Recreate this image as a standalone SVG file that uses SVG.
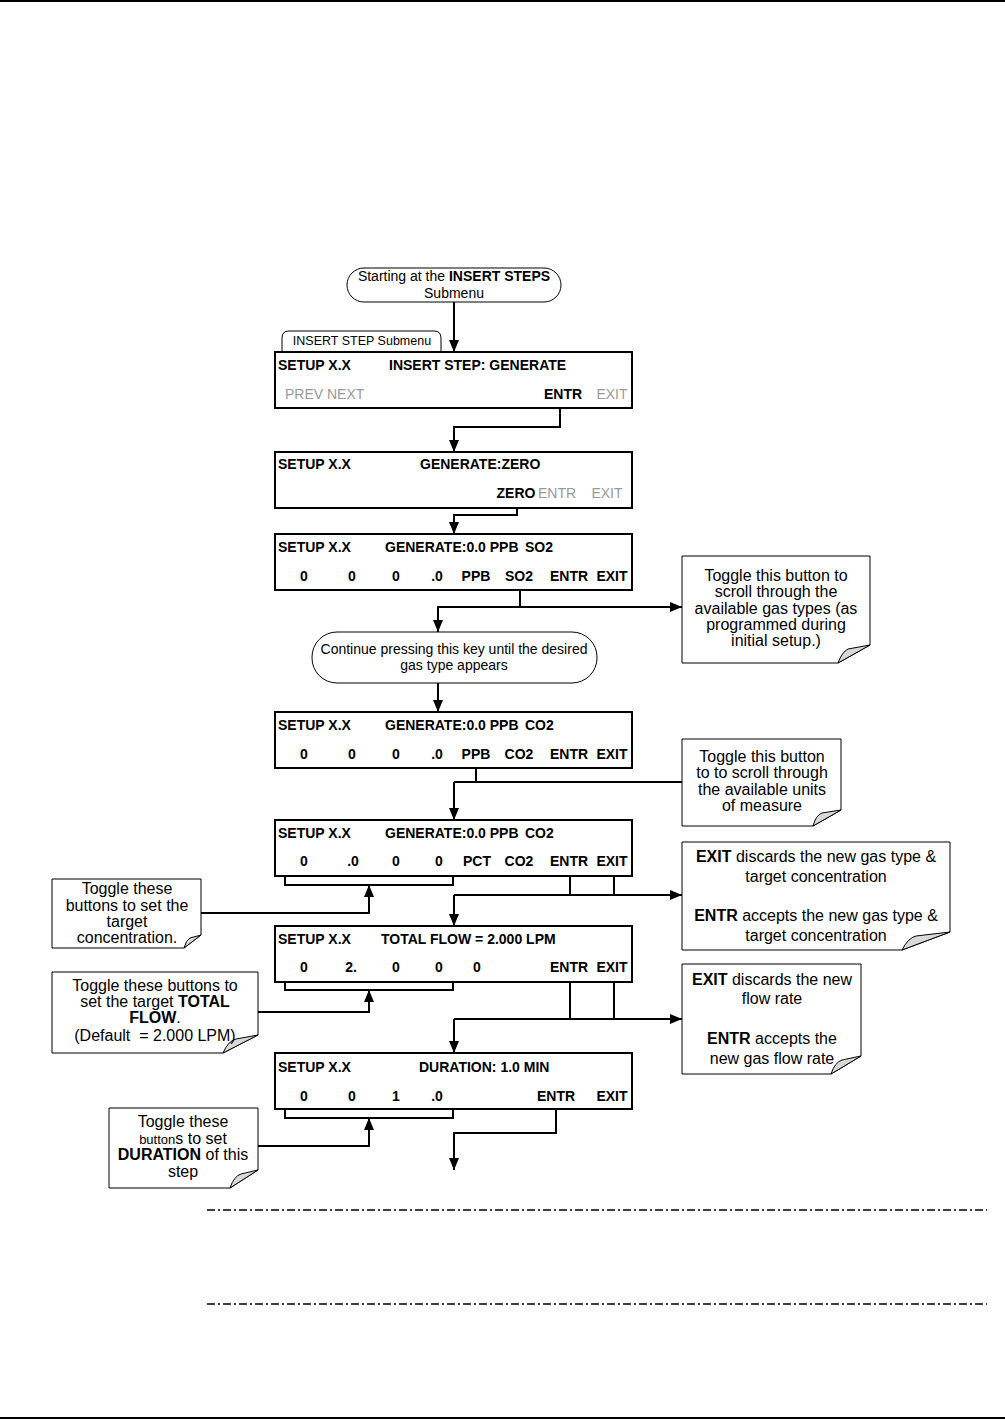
<svg xmlns="http://www.w3.org/2000/svg" width="1005" height="1420" viewBox="0 0 1005 1420">
<defs>
<marker id="ah" markerUnits="userSpaceOnUse" markerWidth="14" markerHeight="12" refX="12" refY="5" orient="auto">
<path d="M0,0 L12,5 L0,10 Z" fill="#000"/>
</marker>
<style>
.box{fill:#fff;stroke:#000;stroke-width:2}
.t{font-family:"Liberation Sans",Arial,sans-serif;font-size:14px;font-weight:bold;fill:#000}
.g{font-family:"Liberation Sans",Arial,sans-serif;font-size:14px;fill:#999}
.n{font-family:"Liberation Sans",Arial,sans-serif;font-size:16px;fill:#000;text-anchor:middle}
.p{font-family:"Liberation Sans",Arial,sans-serif;font-size:14px;fill:#000;text-anchor:middle}
.m{text-anchor:middle}
.note{fill:#fff;stroke:#000;stroke-width:1}
.fold{fill:#d9d9d9;stroke:#000;stroke-width:1}
.c{fill:none;stroke:#000;stroke-width:2}
.a{fill:none;stroke:#000;stroke-width:2;marker-end:url(#ah)}
.d{fill:none;stroke:#000;stroke-width:1.5;stroke-dasharray:8 3 2 3}
</style>
</defs>
<rect width="1005" height="1420" fill="#fff"/>
<line x1="0" y1="1" x2="1005" y2="1" stroke="#000" stroke-width="2"/>
<line x1="0" y1="1418" x2="1005" y2="1418" stroke="#000" stroke-width="2"/>

<g id="connectors">
<path class="a" d="M454,302 V352"/>
<path class="a" d="M560,408 V427 H454 V452"/>
<path class="a" d="M517,508 V515 H454 V534"/>
<path class="c" d="M520,590 V607"/>
<path class="a" d="M520,607 H438 V632"/>
<path class="a" d="M520,607 H682"/>
<path class="a" d="M438,683 V712"/>
<path class="c" d="M476,768 V782"/>
<path class="c" d="M454,782 H682"/>
<path class="a" d="M454,782 V820"/>
<path class="c" d="M570,860 V895 M614,860 V895"/>
<path class="a" d="M454,895 H682"/>
<path class="a" d="M454,895 V926"/>
<path class="c" d="M285,860 V885 H453 V860"/>
<path class="a" d="M201,913 H369 V885"/>
<path class="c" d="M570,966 V1019 M614,966 V1019"/>
<path class="a" d="M454,1019 H682"/>
<path class="a" d="M454,1019 V1053"/>
<path class="c" d="M285,966 V990 H453 V966"/>
<path class="a" d="M258,1012 H369 V990"/>
<path class="c" d="M285,1094 V1118 H453 V1094"/>
<path class="a" d="M258,1146 H369 V1118"/>
<path class="a" d="M556,1109 V1133 H454 V1170"/>
</g>

<g id="start">
<rect x="347" y="268" width="214" height="34" rx="17" fill="#fff" stroke="#000" stroke-width="1"/>
<text class="p" x="454" y="281">Starting at the <tspan font-weight="bold">INSERT STEPS</tspan></text>
<text class="p" x="454" y="298">Submenu</text>
</g>

<g id="tab">
<path d="M282,352 V338 Q282,331 289,331 H434 Q441,331 441,338 V352" fill="#fff" stroke="#000" stroke-width="1"/>
<text x="362" y="345" font-family="Liberation Sans, Arial, sans-serif" font-size="12.5" text-anchor="middle">INSERT STEP Submenu</text>
</g>

<g id="box1">
<rect class="box" x="275" y="352" width="357" height="56"/>
<text class="t" x="278" y="370">SETUP X.X</text>
<text class="t" x="389" y="370">INSERT STEP: GENERATE</text>
<text class="g" x="285" y="399">PREV NEXT</text>
<text class="t m" x="563" y="399">ENTR</text>
<text class="g m" x="612" y="399">EXIT</text>
</g>

<g id="box2">
<rect class="box" x="275" y="452" width="357" height="56"/>
<text class="t" x="278" y="469">SETUP X.X</text>
<text class="t" x="420" y="469">GENERATE:ZERO</text>
<text class="t m" x="516" y="498">ZERO</text>
<text class="g m" x="557" y="498">ENTR</text>
<text class="g m" x="607" y="498">EXIT</text>
</g>

<g id="box3">
<rect class="box" x="275" y="534" width="357" height="56"/>
<text class="t" x="278" y="552">SETUP X.X</text>
<text class="t" x="385" y="552">GENERATE:0.0 PPB</text>
<text class="t" x="525" y="552">SO2</text>
<text class="t m" x="304" y="581">0</text>
<text class="t m" x="352" y="581">0</text>
<text class="t m" x="396" y="581">0</text>
<text class="t m" x="437" y="581">.0</text>
<text class="t m" x="476" y="581">PPB</text>
<text class="t m" x="519" y="581">SO2</text>
<text class="t m" x="569" y="581">ENTR</text>
<text class="t m" x="612" y="581">EXIT</text>
</g>

<g id="note1">
<path class="note" d="M682,556 H870 V645 L838,663 H682 Z"/>
<path class="fold" d="M870,645 L838,663 Q842,652 848,649 Z"/>
<text class="n" x="776" y="581">Toggle this button to</text>
<text class="n" x="776" y="597">scroll through the</text>
<text class="n" x="776" y="614">available gas types (as</text>
<text class="n" x="776" y="630">programmed during</text>
<text class="n" x="776" y="646">initial setup.)</text>
</g>

<g id="pill2">
<rect x="312" y="632" width="285" height="51" rx="25" fill="#fff" stroke="#000" stroke-width="1"/>
<text class="p" x="454" y="654">Continue pressing this key until the desired</text>
<text class="p" x="454" y="670">gas type appears</text>
</g>

<g id="box4">
<rect class="box" x="275" y="712" width="357" height="56"/>
<text class="t" x="278" y="730">SETUP X.X</text>
<text class="t" x="385" y="730">GENERATE:0.0 PPB</text>
<text class="t" x="525" y="730">CO2</text>
<text class="t m" x="304" y="759">0</text>
<text class="t m" x="352" y="759">0</text>
<text class="t m" x="396" y="759">0</text>
<text class="t m" x="437" y="759">.0</text>
<text class="t m" x="476" y="759">PPB</text>
<text class="t m" x="519" y="759">CO2</text>
<text class="t m" x="569" y="759">ENTR</text>
<text class="t m" x="612" y="759">EXIT</text>
</g>

<g id="note2">
<path class="note" d="M682,739 H841 V810 L813,826 H682 Z"/>
<path class="fold" d="M841,810 L813,826 Q816,815 822,813 Z"/>
<text class="n" x="762" y="762">Toggle this button</text>
<text class="n" x="762" y="778">to to scroll through</text>
<text class="n" x="762" y="795">the available units</text>
<text class="n" x="762" y="811">of measure</text>
</g>

<g id="box5">
<rect class="box" x="275" y="820" width="357" height="56"/>
<text class="t" x="278" y="838">SETUP X.X</text>
<text class="t" x="385" y="838">GENERATE:0.0 PPB</text>
<text class="t" x="525" y="838">CO2</text>
<text class="t m" x="304" y="866">0</text>
<text class="t m" x="353" y="866">.0</text>
<text class="t m" x="396" y="866">0</text>
<text class="t m" x="439" y="866">0</text>
<text class="t m" x="477" y="866">PCT</text>
<text class="t m" x="519" y="866">CO2</text>
<text class="t m" x="569" y="866">ENTR</text>
<text class="t m" x="612" y="866">EXIT</text>
</g>

<g id="note3">
<path class="note" d="M682,842 H950 V932 L902,950 H682 Z"/>
<path class="fold" d="M950,932 L902,950 Q908,938 916,936 Z"/>
<text class="n" x="816" y="862"><tspan font-weight="bold">EXIT</tspan> discards the new gas type &amp;</text>
<text class="n" x="816" y="882">target concentration</text>
<text class="n" x="816" y="921"><tspan font-weight="bold">ENTR</tspan> accepts the new gas type &amp;</text>
<text class="n" x="816" y="941">target concentration</text>
</g>

<g id="note4">
<path class="note" d="M52,879 H201 V935 L184,948 H52 Z"/>
<path class="fold" d="M201,935 L184,948 Q186,940 190,938 Z"/>
<text class="n" x="127" y="894">Toggle these</text>
<text class="n" x="127" y="911">buttons to set the</text>
<text class="n" x="127" y="927">target</text>
<text class="n" x="127" y="943">concentration.</text>
</g>

<g id="box6">
<rect class="box" x="275" y="926" width="357" height="56"/>
<text class="t" x="278" y="944">SETUP X.X</text>
<text class="t" x="381" y="944">TOTAL FLOW = 2.000 LPM</text>
<text class="t m" x="304" y="972">0</text>
<text class="t m" x="351" y="972">2.</text>
<text class="t m" x="396" y="972">0</text>
<text class="t m" x="439" y="972">0</text>
<text class="t m" x="477" y="972">0</text>
<text class="t m" x="569" y="972">ENTR</text>
<text class="t m" x="612" y="972">EXIT</text>
</g>

<g id="note5">
<path class="note" d="M52,972 H258 V1035 L223,1053 H52 Z"/>
<path class="fold" d="M258,1035 L223,1053 Q228,1041 236,1039 Z"/>
<text class="n" x="155" y="991">Toggle these buttons to</text>
<text class="n" x="155" y="1007">set the target <tspan font-weight="bold">TOTAL</tspan></text>
<text class="n" x="155" y="1023"><tspan font-weight="bold">FLOW</tspan>.</text>
<text class="n" x="155" y="1041" font-size="13" style="white-space:pre">(Default  = 2.000 LPM)</text>
</g>

<g id="note6">
<path class="note" d="M682,964 H861 V1056 L831,1074 H682 Z"/>
<path class="fold" d="M861,1056 L831,1074 Q835,1062 842,1060 Z"/>
<text class="n" x="772" y="985"><tspan font-weight="bold">EXIT</tspan> discards the new</text>
<text class="n" x="772" y="1004">flow rate</text>
<text class="n" x="772" y="1044"><tspan font-weight="bold">ENTR</tspan> accepts the</text>
<text class="n" x="772" y="1064">new gas flow rate</text>
</g>

<g id="box7">
<rect class="box" x="275" y="1053" width="357" height="56"/>
<text class="t" x="278" y="1072">SETUP X.X</text>
<text class="t" x="419" y="1072">DURATION: 1.0 MIN</text>
<text class="t m" x="304" y="1101">0</text>
<text class="t m" x="352" y="1101">0</text>
<text class="t m" x="396" y="1101">1</text>
<text class="t m" x="437" y="1101">.0</text>
<text class="t m" x="556" y="1101">ENTR</text>
<text class="t m" x="612" y="1101">EXIT</text>
</g>

<g id="note7">
<path class="note" d="M109,1108 H258 V1170 L230,1188 H109 Z"/>
<path class="fold" d="M258,1170 L230,1188 Q234,1176 241,1174 Z"/>
<text class="n" x="183" y="1127">Toggle these</text>
<text class="n" x="183" y="1144"><tspan font-size="13">button</tspan>s to set</text>
<text class="n" x="183" y="1160"><tspan font-weight="bold">DURATION</tspan> of this</text>
<text class="n" x="183" y="1177">step</text>
</g>

<line class="d" x1="207" y1="1210" x2="987" y2="1210"/>
<line class="d" x1="207" y1="1304" x2="987" y2="1304"/>
</svg>
